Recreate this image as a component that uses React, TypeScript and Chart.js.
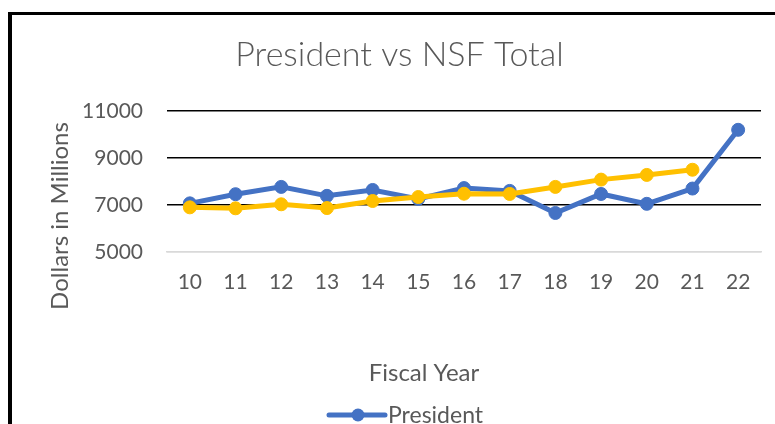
import React, { useEffect, useRef } from 'react';
import { Chart, registerables } from 'chart.js';

Chart.register(...registerables);

const categories = ['10', '11', '12', '13', '14', '15', '16', '17', '18', '19', '20', '21', '22'];
const presidentValues = [7070, 7460, 7770, 7390, 7640, 7260, 7720, 7600, 6660, 7470, 7050, 7700, 10200];
const nsfTotalValues = [6900, 6860, 7030, 6870, 7170, 7340, 7480, 7470, 7770, 8080, 8280, 8500, null];
const yTickValues = [5000, 7000, 9000, 11000];
const seriesNames = ['President', 'NSF Total'];
const chartTitle = 'President vs NSF Total';
const yAxisTitle = 'Dollars in Millions';
const xAxisTitle = 'Fiscal Year';

const BLUE = '#4472C4';
const GOLD = '#FFC000';
const TEXT = '#595959';
const FONT = 'Lato, "Open Sans", sans-serif';

const textPlugin = {
  id: 'excelTexts',
  afterDraw(chart: any) {
    const { ctx, chartArea } = chart;
    ctx.save();
    ctx.fillStyle = TEXT;
    ctx.font = `24px ${FONT}`;
    ctx.textAlign = 'center';
    ctx.textBaseline = 'middle';
    // y axis title
    ctx.save();
    ctx.translate(chartArea.left - 107, chartArea.bottom - 36);
    ctx.rotate(-Math.PI / 2);
    ctx.fillText(yAxisTitle, 0, 0);
    ctx.restore();
    // x axis title
    ctx.fillText(xAxisTitle, chartArea.left + 257, chartArea.bottom + 121);
    // legend (two rows, second one falls below the visible area)
    ctx.font = `23px ${FONT}`;
    ctx.textAlign = 'left';
    chart.data.datasets.forEach((ds: any, i: number) => {
      const x0 = chartArea.left + 162;
      const y = chartArea.bottom + 163 + i * 32;
      ctx.strokeStyle = ds.borderColor;
      ctx.lineWidth = 5;
      ctx.lineCap = 'round';
      ctx.beginPath();
      ctx.moveTo(x0, y);
      ctx.lineTo(x0 + 56, y);
      ctx.stroke();
      ctx.fillStyle = ds.backgroundColor;
      ctx.beginPath();
      ctx.arc(x0 + 29, y, 6.5, 0, Math.PI * 2);
      ctx.fill();
      ctx.fillStyle = TEXT;
      ctx.fillText(ds.label, x0 + 59, y + 1);
    });
    ctx.restore();
  },
};

export default function App() {
  const canvasRef = useRef<HTMLCanvasElement | null>(null);

  useEffect(() => {
    if (!canvasRef.current) return;
    const chart = new Chart(canvasRef.current, {
      type: 'line',
      data: {
        labels: categories,
        datasets: [
          {
            label: seriesNames[0],
            data: presidentValues,
            borderColor: BLUE,
            backgroundColor: BLUE,
            borderWidth: 5,
            pointRadius: 6.5,
            pointBorderWidth: 1,
            pointBackgroundColor: BLUE,
            pointBorderColor: BLUE,
            tension: 0,
            order: 2,
          },
          {
            label: seriesNames[1],
            data: nsfTotalValues,
            borderColor: GOLD,
            backgroundColor: GOLD,
            borderWidth: 5,
            pointRadius: 6.5,
            pointBorderWidth: 1,
            pointBackgroundColor: GOLD,
            pointBorderColor: GOLD,
            tension: 0,
            spanGaps: false,
            order: 1,
          },
        ],
      },
      options: {
        responsive: false,
        animation: false,
        layout: { padding: { left: 38, right: 14, top: 0, bottom: 0 } },
        plugins: {
          legend: { display: false },
          tooltip: { enabled: false },
          title: {
            display: true,
            text: chartTitle,
            color: TEXT,
            font: { family: FONT, size: 34, weight: '300', lineHeight: 1.2 },
            padding: { top: 35, bottom: 35.2 },
          },
        },
        scales: {
          x: {
            offset: true,
            grid: { display: false, drawTicks: false },
            border: { display: true, color: '#D9D9D9', width: 1.5 },
            ticks: { color: TEXT, font: { family: FONT, size: 21 }, padding: 18, maxRotation: 0 },
            afterFit: (scale: any) => {
              scale.height = 208;
            },
          },
          y: {
            min: 5000,
            max: 11000,
            afterBuildTicks: (scale: any) => {
              scale.ticks = yTickValues.map((v) => ({ value: v }));
            },
            grid: {
              drawTicks: false,
              lineWidth: 1.5,
              color: (c: any) => (c.tick && c.tick.value === 5000 ? '#D9D9D9' : '#000000'),
            },
            border: { display: false },
            ticks: {
              color: TEXT,
              font: { family: FONT, size: 21 },
              padding: 24,
              callback: (v: any) => String(v),
            },
            afterFit: (scale: any) => {
              scale.width = 129;
            },
          },
        },
      },
      plugins: [textPlugin],
    });
    return () => chart.destroy();
  }, []);

  return (
    <div style={{ position: 'fixed', left: 0, top: 0, width: 775, height: 424, overflow: 'hidden', background: '#fff' }}>
      <div
        style={{
          position: 'absolute',
          left: 8,
          top: 12,
          width: 900,
          height: 600,
          borderLeft: '4px solid #000',
          borderTop: '3px solid #000',
          boxSizing: 'border-box',
        }}
      />
      <canvas ref={canvasRef} width={775} height={460} style={{ position: 'absolute', left: 0, top: 0 }} />
    </div>
  );
}
